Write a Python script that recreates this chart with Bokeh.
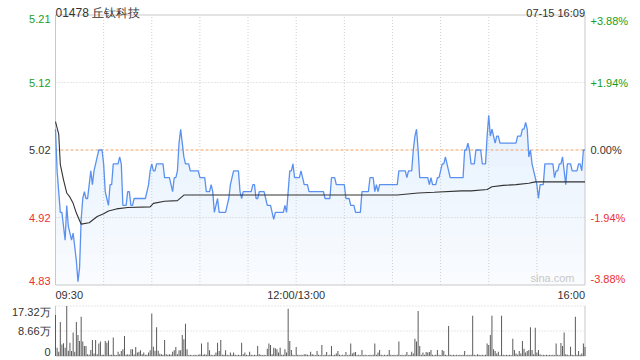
import numpy as np
from bokeh.plotting import figure
from bokeh.models import Range1d, ColumnDataSource
from bokeh.core.properties import value
from bokeh.embed import file_html
from bokeh.resources import INLINE

# ---------------- data ----------------
title_text = "01478 丘钛科技"
timestamp_text = "07-15 16:09"
watermark_text = "sina.com"
prev_close = 5.02

price = [
    5.05, 4.99, 4.96, 4.93, 4.93, 4.91, 4.89, 4.94, 4.91, 4.90,
    4.89, 4.90, 4.88, 4.86, 4.83, 4.85, 4.92, 4.95, 4.96, 4.95,
    4.95, 4.97, 4.99, 4.97, 4.99, 5.00, 5.01, 5.02, 5.02, 5.02,
    5.00, 4.96, 4.95, 4.94, 4.97, 4.97, 5.00, 5.00, 5.00, 5.00,
    5.01, 5.00, 4.94, 4.94, 4.94, 4.96, 4.96, 4.94, 4.94, 4.95,
    4.95, 4.95, 4.95, 4.95, 4.95, 4.95, 4.95, 4.96, 4.97, 4.99,
    5.00, 4.99, 4.99, 5.00, 5.00, 5.00, 5.00, 5.00, 4.98, 4.98,
    4.98, 4.98, 4.97, 4.96, 4.98, 4.98, 4.99, 5.03, 5.05, 5.03,
    5.01, 5.00, 5.00, 5.00, 4.99, 4.99, 4.99, 4.99, 4.99, 4.99,
    4.98, 4.98, 4.98, 4.98, 4.96, 4.96, 4.96, 4.97, 4.96, 4.93,
    4.94, 4.95, 4.93, 4.93, 4.93, 4.93, 4.93, 4.94, 4.95, 4.97,
    4.98, 4.99, 4.99, 4.99, 4.99, 4.96, 4.95, 4.96, 4.96, 4.96,
    4.96, 4.96, 4.96, 4.97, 4.97, 4.95, 4.95, 4.96, 4.96, 4.96,
    4.96, 4.95, 4.94, 4.94, 4.94, 4.93, 4.92, 4.93, 4.93, 4.93,
    4.93, 4.93, 4.93, 4.94, 4.93, 4.96, 4.99, 4.99, 5.00, 4.98,
    4.98, 4.98, 4.98, 4.99, 4.98, 4.97, 4.97, 4.97, 4.96, 4.96,
    4.96, 4.96, 4.96, 4.96, 4.96, 4.96, 4.96, 4.96, 4.95, 4.95,
    4.95, 4.95, 4.98, 4.98, 4.98, 4.97, 4.97, 4.97, 4.97, 4.97,
    4.97, 4.95, 4.95, 4.95, 4.94, 4.94, 4.94, 4.93, 4.93, 4.93,
    4.93, 4.96, 4.96, 4.96, 4.96, 4.96, 4.98, 4.98, 4.98, 4.96,
    4.97, 4.96, 4.97, 4.97, 4.97, 4.97, 4.97, 4.97, 4.97, 4.97,
    4.97, 4.97, 4.97, 4.97, 4.99, 4.99, 4.99, 4.99, 4.99, 4.98,
    4.99, 4.99, 4.99, 5.02, 5.04, 5.05, 5.02, 4.98, 4.98, 4.98,
    4.98, 4.98, 4.98, 4.97, 4.98, 4.97, 4.97, 4.97, 4.98, 4.98,
    4.99, 5.00, 5.00, 5.01, 5.00, 4.99, 4.98, 4.98, 4.98, 4.98,
    4.98, 4.98, 4.98, 4.98, 4.98, 5.02, 5.02, 5.03, 5.02, 5.00,
    5.00, 5.00, 5.02, 5.02, 5.02, 5.02, 5.00, 5.00, 5.00, 5.04,
    5.07, 5.04, 5.05, 5.04, 5.03, 5.04, 5.04, 5.03, 5.03, 5.03,
    5.03, 5.03, 5.03, 5.03, 5.03, 5.03, 5.03, 5.03, 5.04, 5.04,
    5.04, 5.05, 5.05, 5.06, 5.05, 5.01, 5.02, 5.00, 4.99, 4.98,
    4.97, 4.95, 4.97, 4.97, 4.97, 5.00, 5.00, 5.00, 5.00, 5.00,
    5.00, 4.98, 4.99, 4.99, 5.00, 5.00, 5.01, 4.99, 4.97, 5.00,
    5.00, 5.00, 4.99, 4.99, 4.99, 4.99, 5.00, 5.00, 4.99, 5.02,
    5.02,
]

avg_minute = [0, 2, 3, 5, 7, 9, 11, 13, 16, 21, 26, 30, 33, 38, 45, 59, 61,
              68, 76, 80, 168, 213, 226, 236, 253, 259, 269, 272, 279, 287,
              295, 299, 330]
avg_price = [5.061, 5.043, 4.999, 4.977, 4.958, 4.952, 4.943, 4.929, 4.913,
             4.915, 4.924, 4.928, 4.932, 4.935, 4.937, 4.938, 4.943, 4.946,
             4.947, 4.955, 4.955, 4.955, 4.958, 4.959, 4.961, 4.961, 4.963,
             4.967, 4.969, 4.970, 4.972, 4.974, 4.974]

volume_wan = [
    14.2, 2.9, 1.5, 11.8, 4.0, 4.4, 2.9, 17.3, 1.8, 4.6,
    1.7, 8.1, 1.5, 11.8, 7.3, 5.2, 13.6, 5.0, 3.5, 3.5,
    0.6, 0.4, 2.1, 5.5, 0.9, 5.5, 0.6, 4.3, 5.0, 0.4,
    0.4, 5.2, 4.6, 5.4, 0.4, 0.4, 6.4, 0.4, 0.3, 1.5,
    0.6, 1.7, 2.3, 6.9, 0.4, 0.6, 0.4, 2.3, 2.3, 0.5,
    3.1, 1.2, 1.5, 2.0, 0.6, 1.2, 0.4, 0.4, 1.2, 2.0,
    14.7, 3.2, 1.8, 10.0, 1.8, 0.8, 0.6, 0.4, 5.5, 0.6,
    0.4, 0.6, 0.4, 1.5, 2.0, 3.1, 0.6, 2.0, 2.0, 7.3,
    5.8, 11.2, 2.3, 0.3, 0.4, 0.3, 0.3, 0.4, 0.3, 0.4,
    0.6, 4.3, 0.4, 0.6, 0.4, 4.8, 2.0, 0.4, 0.3, 0.4,
    1.2, 4.6, 1.7, 5.5, 0.4, 0.4, 2.0, 0.4, 0.3, 1.2,
    0.4, 1.2, 0.4, 0.3, 0.4, 0.3, 4.6, 0.6, 1.2, 0.4,
    0.3, 1.5, 0.4, 0.3, 0.4, 0.3, 3.5, 0.6, 0.4, 0.3,
    0.4, 0.3, 2.5, 4.3, 3.8, 0.6, 2.9, 2.7, 2.3, 1.2,
    2.9, 0.4, 0.4, 2.3, 1.2, 16.4, 5.2, 2.1, 0.4, 0.3,
    3.1, 0.4, 0.3, 0.4, 0.3, 0.6, 0.6, 0.4, 0.3, 1.5,
    0.6, 0.4, 0.3, 1.7, 0.4, 0.3, 3.8, 0.3, 0.4, 1.4,
    0.3, 0.4, 3.5, 0.3, 0.4, 0.9, 1.7, 0.4, 0.3, 0.4,
    0.3, 1.4, 0.3, 0.4, 4.3, 0.9, 1.2, 1.4, 0.3, 0.4,
    0.3, 2.1, 0.3, 0.4, 0.3, 0.3, 0.4, 0.3, 0.4, 4.3,
    0.4, 1.2, 2.1, 0.4, 0.3, 0.4, 0.3, 0.4, 2.1, 0.4,
    0.3, 0.4, 0.3, 0.4, 5.0, 0.3, 0.4, 0.3, 0.4, 1.4,
    0.3, 0.4, 1.5, 0.9, 6.0, 5.0, 15.6, 3.5, 0.4, 1.2,
    0.4, 1.4, 1.2, 1.4, 2.1, 0.4, 0.3, 0.4, 2.1, 0.4,
    0.3, 2.1, 1.7, 0.4, 0.3, 10.4, 0.4, 0.3, 0.4, 0.3,
    0.4, 0.3, 0.4, 0.3, 0.4, 1.7, 0.3, 0.4, 0.3, 0.4,
    13.9, 0.4, 0.3, 0.6, 0.4, 0.3, 0.4, 0.3, 0.4, 4.3,
    3.8, 7.3, 13.9, 2.3, 1.7, 0.9, 1.5, 0.3, 13.9, 0.4,
    0.3, 0.4, 0.3, 0.4, 0.3, 6.0, 2.1, 0.9, 0.4, 1.7,
    0.9, 5.2, 2.5, 1.2, 1.7, 2.1, 10.0, 2.1, 0.6, 9.8,
    1.2, 2.1, 0.6, 0.3, 0.4, 0.3, 0.4, 0.3, 0.4, 0.3,
    0.4, 0.3, 4.3, 0.4, 0.3, 4.5, 3.5, 8.1, 0.6, 0.4,
    0.3, 3.2, 0.4, 0.3, 13.6, 0.4, 1.7, 0.4, 0.9, 4.3,
    3.1,
]

pct_ticks = [-3.88, -1.94, 0.0, 1.94, 3.88]
price_tick_labels = ["4.83", "4.92", "5.02", "5.12", "5.21"]
pct_tick_labels = ["-3.88%", "-1.94%", "0.00%", "+1.94%", "+3.88%"]
time_tick_minutes = [0, 150, 330]
time_tick_labels = ["09:30", "12:00/13:00", "16:00"]
vgrid_minutes = [30, 60, 90, 120, 150, 180, 210, 240, 270, 300]
vol_tick_values = [0.0, 8.66, 17.32]
vol_tick_labels = ["0", "8.66万", "17.32万"]

# ---------------- layout (pixels) ----------------
W, H = 640, 360
FL, FR = 55.0, 584.5          # plot frames left / right
PT, PB = 14.5, 284.5          # price frame top / bottom
VT, VB = 305.5, 355.5         # volume frame top / bottom
N_MIN = 330

minutes = np.arange(len(price))
p_top = prev_close * (1 + pct_ticks[-1] / 100)
p_bot = prev_close * (1 + pct_ticks[0] / 100)
v_max = vol_tick_values[-1]


def mx(px):
    return (px - FL) / (FR - FL) * N_MIN


def py_price(py):
    return p_top - (py - PT) / (PB - PT) * (p_top - p_bot)


def py_vol(py):
    return v_max - (py - VT) / (VB - VT) * v_max


p = figure(width=W, height=H, output_backend="svg", toolbar_location=None,
           x_range=Range1d(mx(0), mx(W)),
           y_range=Range1d(py_price(H), py_price(0)),
           min_border=0, min_border_left=0, min_border_right=0,
           min_border_top=0, min_border_bottom=0)
p.extra_y_ranges = {"vol": Range1d(py_vol(H), py_vol(0))}
p.axis.visible = False
p.grid.visible = False
p.outline_line_color = None
p.background_fill_color = "white"
p.border_fill_color = "white"

FONT = value("Liberation Sans")
GRID = "#cfcfcf"
GREEN = "#1a9e1a"
RED = "#ee3030"
DARK = "#333333"

# ---- price area fill (layered to imitate a vertical gradient) ----
price_arr = np.array(price)
p.varea(x=minutes, y1=price_arr, y2=p_bot, fill_color="#5a91f0", fill_alpha=0.035)
for lvl in np.linspace(p_bot + 0.02, 5.07, 10):
    p.varea(x=minutes, y1=price_arr, y2=np.minimum(price_arr, lvl),
            fill_color="#5a91f0", fill_alpha=0.011)

# ---- price grid ----
p.segment(x0=vgrid_minutes, x1=vgrid_minutes, y0=p_bot, y1=p_top,
          line_color=GRID, line_width=1, line_dash="1 2")
hg = [prev_close * (1 + t / 100) for t in pct_ticks[1:-1] if t != 0]
p.segment(x0=0, x1=N_MIN, y0=hg, y1=hg, line_color=GRID, line_width=1,
          line_dash="1 2")
p.segment(x0=0, x1=N_MIN, y0=prev_close, y1=prev_close, line_color="#f2a062",
          line_width=1, line_dash="3 2")
p.quad(left=0, right=N_MIN, bottom=p_bot, top=p_top, fill_color=None,
       line_color="#c8c8c8", line_width=1)

# ---- price & average lines ----
p.line(minutes, price_arr, line_color="#5a91f0", line_width=1.3)
p.line(avg_minute, avg_price, line_color="#333333", line_width=1.1)

# ---- volume panel ----
p.segment(x0=0, x1=N_MIN, y0=vol_tick_values[1:], y1=vol_tick_values[1:],
          line_color=GRID, line_width=1, line_dash="1 2", y_range_name="vol")
p.segment(x0=[0, N_MIN], x1=[0, N_MIN], y0=0, y1=v_max, line_color="#c8c8c8",
          line_width=1, y_range_name="vol")
p.segment(x0=0, x1=N_MIN, y0=0, y1=0, line_color="#c8c8c8", line_width=1,
          y_range_name="vol")
p.vbar(x=np.arange(len(volume_wan)), top=volume_wan, bottom=0, width=0.62,
       fill_color="#5a5a5a", line_color=None, y_range_name="vol")

# ---- texts ----
tick_vals = [prev_close * (1 + t / 100) for t in pct_ticks]
tick_colors = [RED, RED, DARK, GREEN, GREEN]
tick_base = ["bottom", "middle", "middle", "middle", "top"]
src_l = ColumnDataSource(dict(x=[mx(50)] * 5, y=tick_vals, t=price_tick_labels,
                              c=tick_colors, b=tick_base))
p.text(x="x", y="y", text="t", source=src_l, text_color="c", text_baseline="b",
       text_align="right", text_font=FONT, text_font_size="11px")
src_r = ColumnDataSource(dict(x=[mx(590)] * 5, y=tick_vals, t=pct_tick_labels,
                              c=tick_colors, b=tick_base))
p.text(x="x", y="y", text="t", source=src_r, text_color="c", text_baseline="b",
       text_align="left", text_font=FONT, text_font_size="11px")

src_t = ColumnDataSource(dict(x=time_tick_minutes,
                              y=[py_price(PB + 3.5)] * 3,
                              t=time_tick_labels,
                              a=["left", "center", "right"]))
p.text(x="x", y="y", text="t", source=src_t, text_align="a", text_baseline="top",
       text_color=DARK, text_font=FONT, text_font_size="11px")

src_v = ColumnDataSource(dict(x=[mx(50)] * 3, y=vol_tick_values,
                              t=vol_tick_labels,
                              b=["bottom", "middle", "top"]))
p.text(x="x", y="y", text="t", source=src_v, text_baseline="b", text_align="right",
       text_color=DARK, text_font=FONT, text_font_size="11px", y_range_name="vol")

p.text(x=[0], y=[py_price(12.5)], text=[title_text], text_align="left",
       text_baseline="alphabetic", text_color=DARK, text_font=FONT,
       text_font_size="12px")
p.text(x=[N_MIN], y=[py_price(12.5)], text=[timestamp_text], text_align="right",
       text_baseline="alphabetic", text_color=DARK, text_font=FONT,
       text_font_size="11px")
p.text(x=[mx(574)], y=[py_price(283)], text=[watermark_text], text_align="right",
       text_baseline="bottom", text_color="#c8c8c8", text_font=FONT,
       text_font_size="11px")

open("out.html", "w").write(file_html(p, INLINE))
